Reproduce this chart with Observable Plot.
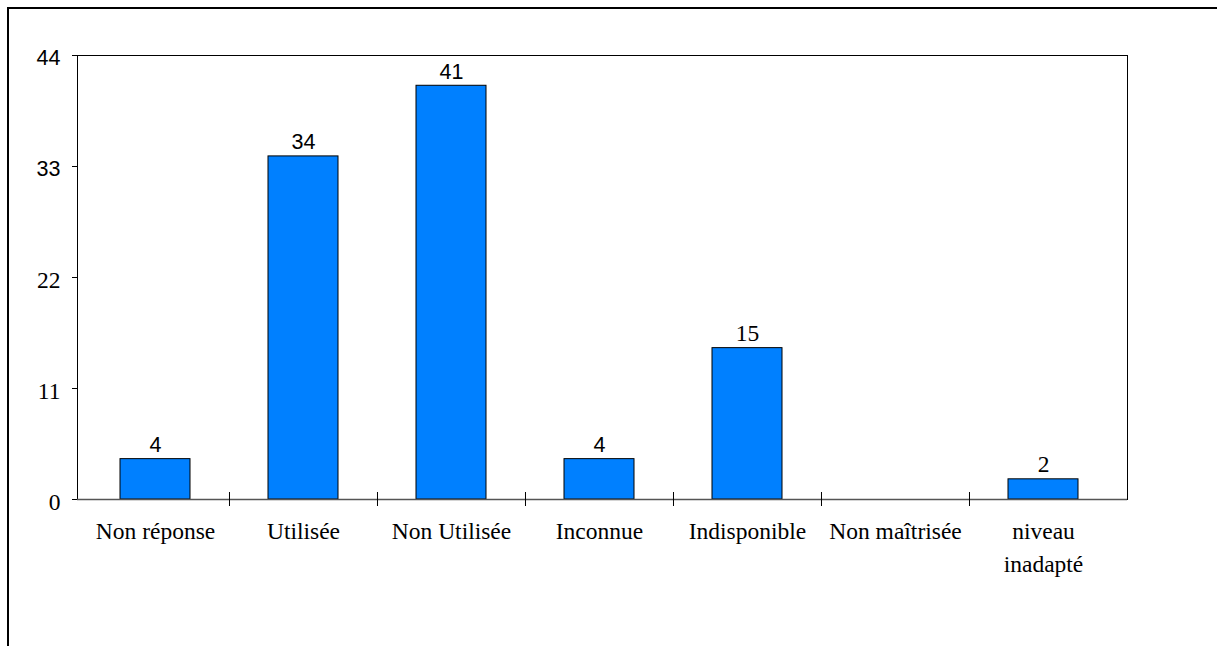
<!DOCTYPE html>
<html><head><meta charset="utf-8">
<script src="https://cdn.jsdelivr.net/npm/d3@7"></script>
<script src="https://cdn.jsdelivr.net/npm/@observablehq/plot@0.6"></script>
<style>
html,body{margin:0;padding:0;background:#fff;}
#wrap{position:relative;width:1217px;height:646px;overflow:hidden;background:#fff;}
#wrap svg{position:absolute;left:0;top:0;}
#border{position:absolute;left:7px;top:7px;width:1300px;height:700px;border-left:2px solid #000;border-top:2px solid #000;pointer-events:none;}
</style></head><body>
<div id="wrap"><div id="border"></div></div>
<script>
const categories = ["Non réponse","Utilisée","Non Utilisée","Inconnue","Indisponible","Non maîtrisée","niveau inadapté"];
const values = [4,34,41,4,15,0,2];
const yTicks = [0,11,22,33,44];
const xLabels = ["Non réponse","Utilisée","Non Utilisée","Inconnue","Indisponible","Non maîtrisée","niveau\ninadapté"];

const data = categories.map((c, i) => ({cat: c, value: values[i], label: xLabels[i]}));

const W = 1217, H = 646;
const mL = 77, mR = 90, mT = 55, mB = 147;
const pIn = 0.524, pOut = 0.309;
const step = (W - mL - mR) / (categories.length - pIn + 2 * pOut);

const SERIF = "'Liberation Serif', 'Times New Roman', serif";
const SANS = "'Liberation Sans', Arial, sans-serif";
const isSans = s => /[34]/.test(String(s));

const plot = Plot.plot({
  width: W, height: H,
  marginLeft: mL, marginRight: mR, marginTop: mT, marginBottom: mB,
  style: {background: "transparent", overflow: "visible"},
  x: {domain: categories, paddingInner: pIn, paddingOuter: pOut, align: 0.47, label: null},
  y: {domain: [0, 44], label: null},
  marks: [
    Plot.frame({stroke: "#000", strokeWidth: 1}),
    Plot.barY(data.filter(d => d.value > 0), {x: "cat", y: "value", fill: "#0080ff", stroke: "#000", strokeWidth: 1}),
    Plot.ruleY([0], {stroke: "#555", strokeWidth: 1.5}),
    Plot.ruleX(categories.slice(1), {x: d => d, y1: 0, y2: 0, insetTop: -7, insetBottom: -7, dx: -step / 2, stroke: "#000", strokeWidth: 1}),
    Plot.axisY(yTicks, {tickSize: 5, tickFormat: () => "", stroke: "#000"}),
    Plot.text(yTicks.filter(d => !isSans(d)), {y: d => d, text: d => String(d), frameAnchor: "left", textAnchor: "end", dx: -17, dy: 3, fontFamily: SERIF, fontSize: 23.5, fill: "#000"}),
    Plot.text(yTicks.filter(d => isSans(d)), {y: d => d, text: d => String(d), frameAnchor: "left", textAnchor: "end", dx: -17, dy: 3, fontFamily: SANS, fontSize: 21.5, fill: "#000"}),
    Plot.axisX({tickSize: 0, tickPadding: 16, tickFormat: d => xLabels[categories.indexOf(d)], fontFamily: SERIF, fontSize: 23.5, lineHeight: 1.4, fill: "#000"}),
    Plot.text(data.filter(d => d.value > 0 && !isSans(d.value)), {x: "cat", y: "value", text: d => String(d.value), lineAnchor: "bottom", dy: -7, fontFamily: SERIF, fontSize: 23.5, fill: "#000"}),
    Plot.text(data.filter(d => d.value > 0 && isSans(d.value)), {x: "cat", y: "value", text: d => String(d.value), lineAnchor: "bottom", dy: -7, fontFamily: SANS, fontSize: 21.5, fill: "#000"})
  ]
});
document.getElementById("wrap").appendChild(plot);
</script>
</body></html>
